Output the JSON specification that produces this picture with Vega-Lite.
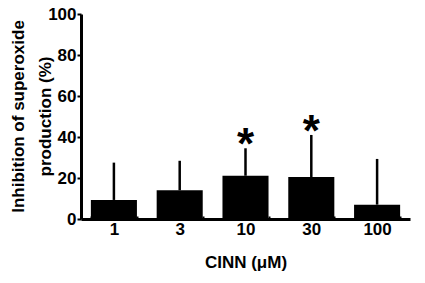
{
  "$schema": "https://vega.github.io/schema/vega-lite/v6.json",
  "autosize": "none",
  "padding": {"left": 81, "top": 14, "right": 15, "bottom": 64},
  "width": 329,
  "height": 205,
  "background": "white",
  "config": {
    "view": {"stroke": null},
    "font": "Liberation Sans",
    "axis": {"grid": false, "domainColor": "black", "tickColor": "black", "labelColor": "black", "titleColor": "black", "labelFont": "Liberation Sans", "titleFont": "Liberation Sans", "labelFontWeight": "bold", "titleFontWeight": "bold"}
  },
  "data": {"values": [
    {"conc": "1", "mean": 9.3, "upper": 27.5, "sig": ""},
    {"conc": "3", "mean": 14.0, "upper": 28.4, "sig": ""},
    {"conc": "10", "mean": 21.1, "upper": 34.5, "sig": "*"},
    {"conc": "30", "mean": 20.5, "upper": 41.0, "sig": "*"},
    {"conc": "100", "mean": 7.0, "upper": 29.3, "sig": ""}
  ]},
  "encoding": {
    "x": {"field": "conc", "type": "ordinal", "sort": null,
      "scale": {"paddingInner": 0.3, "paddingOuter": 0.15},
      "axis": {"title": "CINN (μM)", "labelAngle": 0, "labelFontSize": 17, "titleFontSize": 17, "domainWidth": 3, "tickBand": "extent", "tickSize": -3, "tickWidth": 2, "labelPadding": 5, "titlePadding": 17}}
  },
  "layer": [
    {"mark": {"type": "rule", "color": "black", "strokeWidth": 2.5},
     "encoding": {"y": {"field": "mean", "type": "quantitative"}, "y2": {"field": "upper"}}},
    {"mark": {"type": "bar", "color": "black"},
     "encoding": {"y": {"field": "mean", "type": "quantitative",
       "scale": {"domain": [0, 100], "nice": false},
       "axis": {"title": ["Inhibition of superoxide", "production (%)"], "values": [0, 20, 40, 60, 80, 100], "labelFontSize": 17, "titleFontSize": 17, "titleLineHeight": 27, "titleX": -63, "titleY": 102, "titleBaseline": "middle", "titleAlign": "center", "domainWidth": 3, "tickSize": 4, "tickWidth": 2, "labelPadding": 1}}}},
    {"mark": {"type": "text", "fontSize": 44, "fontWeight": "bold", "color": "black", "baseline": "alphabetic", "dy": 11},
     "encoding": {"y": {"field": "upper", "type": "quantitative"}, "text": {"field": "sig"}}}
  ]
}
